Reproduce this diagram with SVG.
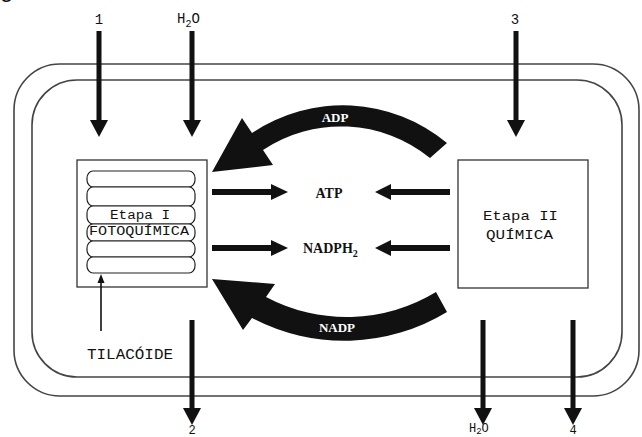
<svg xmlns="http://www.w3.org/2000/svg" width="642" height="437" viewBox="0 0 642 437">
<style>
.frame{fill:none;stroke:#444;stroke-width:1.6}
.box{fill:#fff;stroke:#333;stroke-width:1.3}
.lam{fill:#fff;stroke:#222;stroke-width:1.2}
.ar{fill:#111;stroke:none}
.mono{font-family:"Liberation Mono","Courier New",monospace;fill:#111}
.serif{font-family:"Liberation Serif","Times New Roman",serif;fill:#111;font-weight:bold}
.wserif{font-family:"Liberation Serif","Times New Roman",serif;fill:#fff;font-weight:bold}
.thin{stroke:#111;stroke-width:1.6;fill:none}
</style>
<rect width="642" height="437" fill="#fff"/>
<text x="0" y="-3" font-family="Liberation Sans, Arial, sans-serif" font-size="24" fill="#111">g</text>
<g id="cloroplasto">
<rect class="frame" x="14" y="64" width="625" height="332" rx="46" ry="46"/>
<rect class="frame" x="32" y="80" width="590" height="297" rx="45" ry="45"/>
</g>
<g id="etapa1">
<rect class="box" x="77" y="160" width="130" height="127"/>
<rect class="lam" x="87" y="171" width="108" height="16" rx="6" ry="7"/>
<rect class="lam" x="87" y="187" width="108" height="19" rx="6" ry="7"/>
<rect class="lam" x="87" y="206" width="108" height="18" rx="6" ry="7"/>
<rect class="lam" x="87" y="224" width="108" height="17" rx="6" ry="7"/>
<rect class="lam" x="87" y="241" width="108" height="16" rx="6" ry="7"/>
<rect class="lam" x="87" y="257" width="108" height="16" rx="6" ry="7"/>
<text class="mono" x="110" y="219" font-size="12" textLength="60" lengthAdjust="spacingAndGlyphs">Etapa I</text>
<text class="mono" x="89" y="235" font-size="12" textLength="100" lengthAdjust="spacingAndGlyphs">FOTOQUÍMICA</text>
</g>
<g id="etapa2">
<rect class="box" x="458" y="160" width="130" height="128"/>
<text class="mono" x="483" y="220" font-size="13" textLength="75" lengthAdjust="spacingAndGlyphs">Etapa II</text>
<text class="mono" x="486" y="239" font-size="13" textLength="67" lengthAdjust="spacingAndGlyphs">QUÍMICA</text>
</g>
<g id="tilacoide">
<text class="mono" x="87" y="359" font-size="14" textLength="86" lengthAdjust="spacingAndGlyphs">TILACÓIDE</text>
</g>
<g id="atp"><text class="serif" x="329" y="198" font-size="14" text-anchor="middle">ATP</text></g>
<g id="nadph2"><text class="serif" x="303" y="253" font-size="14">NADPH<tspan font-size="10" dy="4">2</tspan></text></g>
<g id="labels">
<text class="mono" x="99" y="24" font-size="14" text-anchor="middle">1</text>
<text class="mono" x="177" y="23" font-size="14">H<tspan font-size="10" dy="4">2</tspan><tspan dy="-4">O</tspan></text>
<text class="mono" x="515" y="24" font-size="14" text-anchor="middle">3</text>
<text class="mono" x="192" y="434" font-size="12" text-anchor="middle">2</text>
<text class="mono" x="469" y="432" font-size="12">H<tspan font-size="9" dy="2">2</tspan><tspan dy="-2">O</tspan></text>
<text class="mono" x="573" y="434" font-size="12" text-anchor="middle">4</text>
</g>
<g id="connectors">
<rect class="ar" x="96.5" y="31" width="5" height="90"/><polygon class="ar" points="90,120 108,120 99,137"/>
<rect class="ar" x="189.5" y="31" width="5" height="90"/><polygon class="ar" points="183,120 201,120 192,137"/>
<rect class="ar" x="513.5" y="31" width="5" height="90"/><polygon class="ar" points="507,120 525,120 516,137"/>
<rect class="ar" x="189.5" y="320" width="5" height="89"/><polygon class="ar" points="183,408 201,408 192,425"/>
<rect class="ar" x="480.5" y="320" width="5" height="89"/><polygon class="ar" points="474,408 492,408 483,425"/>
<rect class="ar" x="570.5" y="320" width="5" height="89"/><polygon class="ar" points="564,408 582,408 573,425"/>
<rect class="ar" x="212" y="189" width="60" height="6"/><polygon class="ar" points="271,184 271,200 288,192"/>
<rect class="ar" x="390" y="189" width="60" height="6"/><polygon class="ar" points="391,184 391,200 375,192"/>
<rect class="ar" x="212" y="245" width="60" height="6"/><polygon class="ar" points="271,240 271,256 288,248"/>
<rect class="ar" x="390" y="245" width="60" height="6"/><polygon class="ar" points="391,240 391,256 375,248"/>
<path class="ar" d="M447,143 A163,163 0 0 0 252,133 L242,118 L212,172 L273,165 L263,150 A141,141 0 0 1 430,158 Z"/>
<text class="wserif" x="335" y="122" font-size="13" text-anchor="middle">ADP</text>
<path class="ar" d="M436,292 A172,172 0 0 1 266,297 L275,284 L212,279 L243,330 L252,318 A198,198 0 0 0 447,312 Z"/>
<text class="wserif" x="337" y="332" font-size="13" text-anchor="middle">NADP</text>
<line class="thin" x1="101" y1="331" x2="101" y2="281"/><polygon class="ar" points="97.5,283 104.5,283 101,274"/>
</g>
</svg>
